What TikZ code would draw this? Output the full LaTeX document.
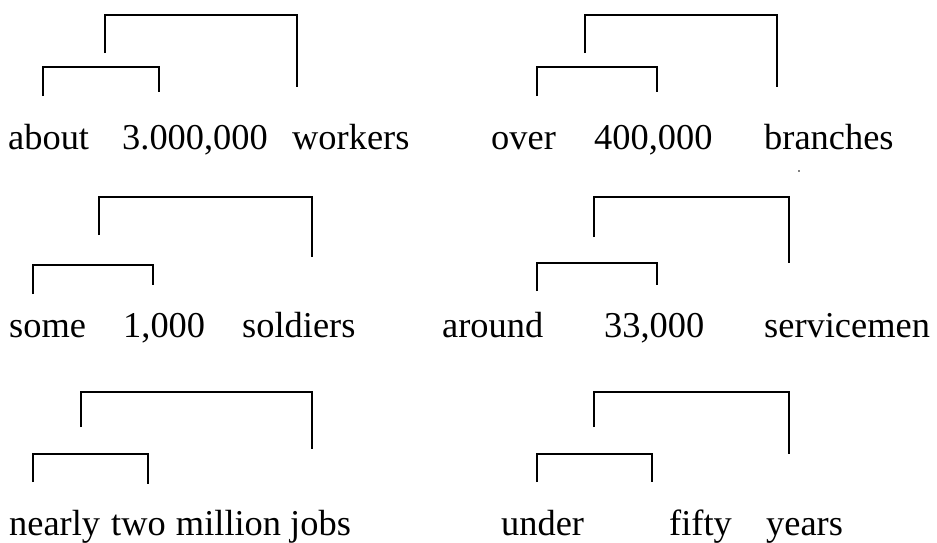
\documentclass[tikz,border=0pt]{standalone}
\usepackage{fontspec}
\setmainfont{Liberation Serif}
\begin{document}
\begin{tikzpicture}[x=1pt,y=-1pt,
  word/.style={anchor=base west,inner sep=0pt,font=\fontsize{36.4}{40}\selectfont},
  brk/.style={draw=black,line width=1.9pt}]
\useasboundingbox (0,0) rectangle (937,542);
% row 1 left
\node[word] (w1) at (8,149) {about};
\node[word] (w2) at (122,149) {3.000,000};
\node[word] (w3) at (292,149) {workers};
\draw[brk] (105,53) -- (105,15) -- (297,15) -- (297,87);
\draw[brk] (43,96) -- (43,67) -- (159,67) -- (159,92);
% row 1 right
\node[word] (w4) at (491,149) {over};
\node[word] (w5) at (594,149) {400,000};
\node[word] (w6) at (764,149) {branches};
\draw[brk] (585,53) -- (585,15) -- (777,15) -- (777,87);
\draw[brk] (537,96) -- (537,67) -- (657,67) -- (657,92);
\fill (799,171) circle (0.9pt);
% row 2 left
\node[word] (w7) at (9,337) {some};
\node[word] (w8) at (123,337) {1,000};
\node[word] (w9) at (242,337) {soldiers};
\draw[brk] (99,235) -- (99,197) -- (312,197) -- (312,257);
\draw[brk] (33,294) -- (33,265) -- (153,265) -- (153,285);
% row 2 right
\node[word] (w10) at (442,337) {around};
\node[word] (w11) at (604,337) {33,000};
\node[word] (w12) at (764,337) {servicemen};
\draw[brk] (594,237) -- (594,197) -- (789,197) -- (789,263);
\draw[brk] (537,291) -- (537,263) -- (657,263) -- (657,285);
% row 3 left
\node[word] (w13) at (9,535) {nearly\hspace{2pt} two\hspace{1pt} million jobs};
\draw[brk] (81,427) -- (81,392) -- (312,392) -- (312,449);
\draw[brk] (33,482) -- (33,454) -- (148,454) -- (148,484);
% row 3 right
\node[word] (w14) at (501,535) {under};
\node[word] (w15) at (669,535) {fifty};
\node[word] (w16) at (766,535) {years};
\draw[brk] (594,427) -- (594,392) -- (789,392) -- (789,454);
\draw[brk] (537,482) -- (537,454) -- (652,454) -- (652,482);
\end{tikzpicture}
\end{document}
